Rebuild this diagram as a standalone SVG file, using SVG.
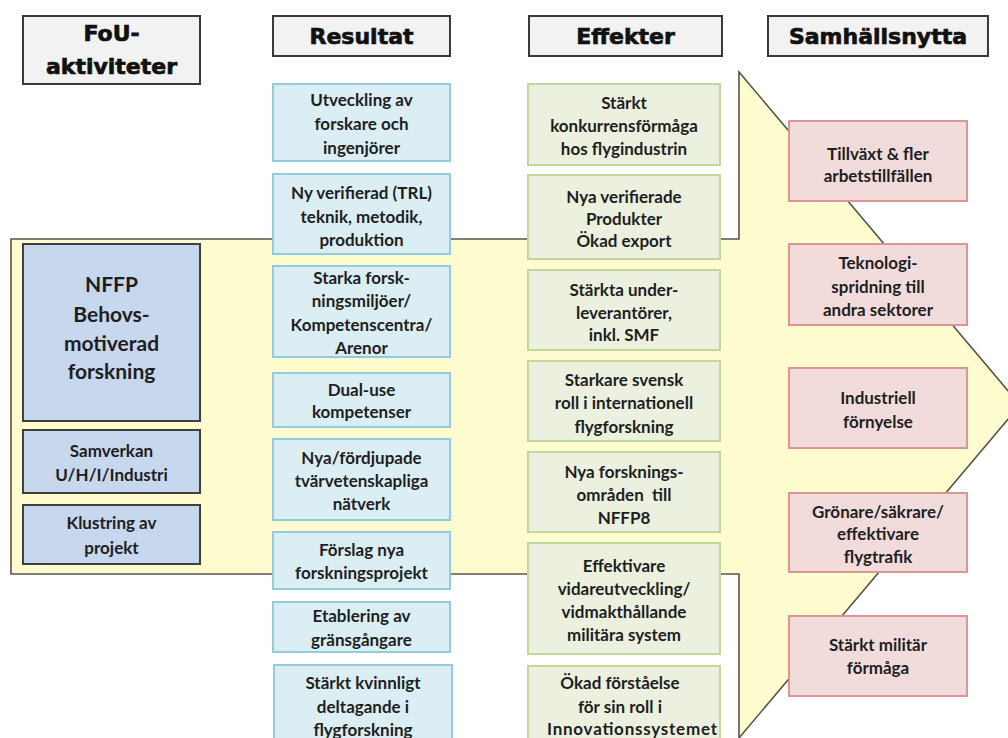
<svg xmlns="http://www.w3.org/2000/svg" width="1008" height="738" viewBox="0 0 1008 738">
<style>
.hdr rect{fill:#F2F2F2;stroke:#3a3a3a;stroke-width:2}
.hdr text{font-family:"DejaVu Sans",sans-serif;font-weight:bold;font-size:22px;fill:#111;stroke:#111;stroke-width:0.7;text-anchor:middle}
.res rect{fill:#DBEEF4;stroke:#93CDDD;stroke-width:2}
.eff rect{fill:#EBF1DE;stroke:#C3D69B;stroke-width:2}
.soc rect{fill:#F2DCDB;stroke:#D99694;stroke-width:2}
.act rect{fill:#C6D7EE;stroke:#3f3f3f;stroke-width:2}
.t{font-family:Lato,"Liberation Sans",sans-serif;font-weight:bold;font-size:17px;fill:#1e1e1e;text-anchor:middle}
.act .t{font-size:21px}
</style>
<rect width="1008" height="738" fill="#FFFFFF"/>
<g id="arrow">
<polygon points="11,239 739,239 739,72 1020,405 739,738 739,574 11,574" fill="#FFFDD0" stroke="#55554a" stroke-width="1.6"/>
</g>
<g id="connectors"/>
<g id="hdr-fou" class="hdr"><rect x="23" y="16" width="177" height="68"/><text x="111.5" y="41">FoU-</text><text x="111.5" y="74">aktiviteter</text></g>
<g id="hdr-resultat" class="hdr"><rect x="273" y="16" width="177" height="40"/><text x="361.5" y="44">Resultat</text></g>
<g id="hdr-effekter" class="hdr"><rect x="529" y="16" width="193" height="40"/><text x="625.5" y="44">Effekter</text></g>
<g id="hdr-samhallsnytta" class="hdr"><rect x="768" y="16" width="220" height="40"/><text x="878" y="44">Samhällsnytta</text></g>

<g id="act-nffp" class="act"><rect x="23" y="244" width="177" height="177"/>
<text class="t" x="111.5" y="292">NFFP</text><text class="t" x="111.5" y="322">Behovs-</text><text class="t" x="111.5" y="351">motiverad</text><text class="t" x="111.5" y="379">forskning</text></g>
<g id="act-samverkan" class="act"><rect x="23" y="430" width="177" height="63"/>
<text class="t" x="111.5" y="457" style="font-size:17px">Samverkan</text><text class="t" x="111.5" y="481" style="font-size:17px">U/H/I/Industri</text></g>
<g id="act-klustring" class="act"><rect x="23" y="505" width="177" height="59"/>
<text class="t" x="111.5" y="529" style="font-size:17px">Klustring av</text><text class="t" x="111.5" y="554" style="font-size:17px">projekt</text></g>

<g id="res-1" class="res"><rect x="273" y="84" width="177" height="77"/>
<text class="t" x="361.5" y="106">Utveckling av</text><text class="t" x="361.5" y="130">forskare och</text><text class="t" x="361.5" y="154">ingenjörer</text></g>
<g id="res-2" class="res"><rect x="273" y="174" width="177" height="80"/>
<text class="t" x="361.5" y="199">Ny verifierad (TRL)</text><text class="t" x="361.5" y="223">teknik, metodik,</text><text class="t" x="361.5" y="246">produktion</text></g>
<g id="res-3" class="res"><rect x="273" y="266" width="177" height="91"/>
<text class="t" x="361.5" y="284">Starka forsk-</text><text class="t" x="361.5" y="307">ningsmiljöer/</text><text class="t" x="361.5" y="331">Kompetenscentra/</text><text class="t" x="361.5" y="354">Arenor</text></g>
<g id="res-4" class="res"><rect x="273" y="373" width="177" height="54"/>
<text class="t" x="361.5" y="396">Dual-use</text><text class="t" x="361.5" y="418">kompetenser</text></g>
<g id="res-5" class="res"><rect x="273" y="439" width="177" height="81"/>
<text class="t" x="361.5" y="464">Nya/fördjupade</text><text class="t" x="361.5" y="487">tvärvetenskapliga</text><text class="t" x="361.5" y="510">nätverk</text></g>
<g id="res-6" class="res"><rect x="273" y="532" width="177" height="57"/>
<text class="t" x="361.5" y="556">Förslag nya</text><text class="t" x="361.5" y="579">forskningsprojekt</text></g>
<g id="res-7" class="res"><rect x="273" y="602" width="177" height="50"/>
<text class="t" x="361.5" y="622">Etablering av</text><text class="t" x="361.5" y="646">gränsgångare</text></g>
<g id="res-8" class="res"><rect x="274" y="665" width="178" height="90"/>
<text class="t" x="363" y="689">Stärkt kvinnligt</text><text class="t" x="363" y="713">deltagande i</text><text class="t" x="363" y="736">flygforskning</text></g>

<g id="eff-1" class="eff"><rect x="528" y="84" width="192" height="81"/>
<text class="t" x="624" y="109">Stärkt</text><text class="t" x="624" y="132">konkurrensförmåga</text><text class="t" x="624" y="155">hos flygindustrin</text></g>
<g id="eff-2" class="eff"><rect x="528" y="175" width="192" height="84"/>
<text class="t" x="624" y="203">Nya verifierade</text><text class="t" x="624" y="225">Produkter</text><text class="t" x="624" y="247">Ökad export</text></g>
<g id="eff-3" class="eff"><rect x="528" y="270" width="192" height="80"/>
<text class="t" x="624" y="296">Stärkta under-</text><text class="t" x="624" y="319">leverantörer,</text><text class="t" x="624" y="341">inkl. SMF</text></g>
<g id="eff-4" class="eff"><rect x="528" y="361" width="192" height="80"/>
<text class="t" x="624" y="386">Starkare svensk</text><text class="t" x="624" y="409">roll i internationell</text><text class="t" x="624" y="433">flygforskning</text></g>
<g id="eff-5" class="eff"><rect x="528" y="452" width="192" height="80"/>
<text class="t" x="624" y="478">Nya forsknings-</text><text class="t" x="624" y="501" xml:space="preserve">områden  till</text><text class="t" x="624" y="524">NFFP8</text></g>
<g id="eff-6" class="eff"><rect x="528" y="543" width="192" height="111"/>
<text class="t" x="624" y="572">Effektivare</text><text class="t" x="624" y="595">vidareutveckling/</text><text class="t" x="624" y="618">vidmakthållande</text><text class="t" x="624" y="641">militära system</text></g>
<g id="eff-7" class="eff"><rect x="528" y="666" width="192" height="90"/>
<text class="t" x="620" y="689">Ökad förståelse</text><text class="t" x="620" y="713">för sin roll i</text><text class="t" x="632" y="735" textLength="170" lengthAdjust="spacing">Innovationssystemet</text></g>

<g id="soc-1" class="soc"><rect x="789" y="121" width="178" height="80"/>
<text class="t" x="878" y="160">Tillväxt &amp; fler</text><text class="t" x="878" y="182">arbetstillfällen</text></g>
<g id="soc-2" class="soc"><rect x="789" y="244" width="178" height="81"/>
<text class="t" x="878" y="269">Teknologi-</text><text class="t" x="878" y="293">spridning till</text><text class="t" x="878" y="316">andra sektorer</text></g>
<g id="soc-3" class="soc"><rect x="789" y="368" width="178" height="80"/>
<text class="t" x="878" y="404">Industriell</text><text class="t" x="878" y="428">förnyelse</text></g>
<g id="soc-4" class="soc"><rect x="789" y="493" width="178" height="79"/>
<text class="t" x="878" y="518">Grönare/säkrare/</text><text class="t" x="878" y="540">effektivare</text><text class="t" x="878" y="563">flygtrafik</text></g>
<g id="soc-5" class="soc"><rect x="789" y="616" width="178" height="80"/>
<text class="t" x="878" y="651">Stärkt militär</text><text class="t" x="878" y="674">förmåga</text></g>
</svg>
